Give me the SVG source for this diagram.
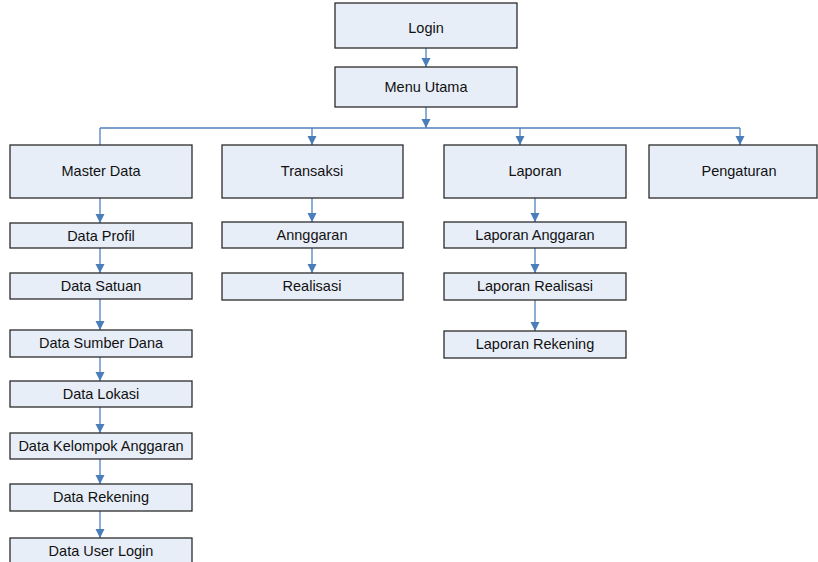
<svg xmlns="http://www.w3.org/2000/svg" width="818" height="562" viewBox="0 0 818 562">
<style>
.box{fill:#e8eef8;stroke:#2b2b2b;stroke-width:1.3}
.lbl{font-family:"Liberation Sans",Arial,sans-serif;font-size:14.5px;fill:#111;text-anchor:middle}
.con{fill:none;stroke:#4f81bd;stroke-width:1.3}
</style>
<defs>
<marker id="arr" markerUnits="userSpaceOnUse" markerWidth="10" markerHeight="10" refX="4.5" refY="9" orient="auto" viewBox="0 0 10 10">
<path d="M0,0 L9,0 L4.5,9 Z" fill="#4a7ebb" transform="rotate(-90 4.5 4.5)"/>
</marker>
<marker id="ah" markerUnits="userSpaceOnUse" markerWidth="10" markerHeight="10" refX="9" refY="5" orient="auto" viewBox="0 0 10 10">
<path d="M0,0.5 L9,5 L0,9.5 Z" fill="#4a7ebb"/>
</marker>
</defs>
<rect width="818" height="562" fill="#ffffff"/>
<g id="connectors">
<line class="con" x1="426" y1="48" x2="426" y2="67" marker-end="url(#ah)"/>
<line class="con" x1="426" y1="107" x2="426" y2="128" marker-end="url(#ah)"/>
<line class="con" x1="100" y1="128" x2="740" y2="128"/>
<line class="con" x1="100" y1="128" x2="100" y2="145"/>
<line class="con" x1="312" y1="128" x2="312" y2="145" marker-end="url(#ah)"/>
<line class="con" x1="520" y1="128" x2="520" y2="145" marker-end="url(#ah)"/>
<line class="con" x1="740" y1="128" x2="740" y2="145" marker-end="url(#ah)"/>
<line class="con" x1="100" y1="198" x2="100" y2="223" marker-end="url(#ah)"/>
<line class="con" x1="100" y1="248" x2="100" y2="273" marker-end="url(#ah)"/>
<line class="con" x1="100" y1="299" x2="100" y2="330" marker-end="url(#ah)"/>
<line class="con" x1="100" y1="357" x2="100" y2="381" marker-end="url(#ah)"/>
<line class="con" x1="100" y1="407" x2="100" y2="433" marker-end="url(#ah)"/>
<line class="con" x1="100" y1="459" x2="100" y2="484" marker-end="url(#ah)"/>
<line class="con" x1="100" y1="511" x2="100" y2="538" marker-end="url(#ah)"/>
<line class="con" x1="312" y1="198" x2="312" y2="222" marker-end="url(#ah)"/>
<line class="con" x1="312" y1="248" x2="312" y2="273" marker-end="url(#ah)"/>
<line class="con" x1="535" y1="198" x2="535" y2="222" marker-end="url(#ah)"/>
<line class="con" x1="535" y1="248" x2="535" y2="273" marker-end="url(#ah)"/>
<line class="con" x1="535" y1="300" x2="535" y2="331" marker-end="url(#ah)"/>
</g>
<g id="login"><rect class="box" x="335" y="3" width="182" height="45"/><text class="lbl" x="426" y="33">Login</text></g>
<g id="menu-utama"><rect class="box" x="335" y="67" width="182" height="40"/><text class="lbl" x="426" y="92">Menu Utama</text></g>
<g id="master-data"><rect class="box" x="10" y="145" width="182" height="53"/><text class="lbl" x="101" y="176">Master Data</text></g>
<g id="transaksi"><rect class="box" x="222" y="145" width="181" height="53"/><text class="lbl" x="312" y="176">Transaksi</text></g>
<g id="laporan"><rect class="box" x="444" y="145" width="182" height="53"/><text class="lbl" x="535" y="176">Laporan</text></g>
<g id="pengaturan"><rect class="box" x="649" y="145" width="168" height="53"/><text class="lbl" x="739" y="176">Pengaturan</text></g>
<g id="data-profil"><rect class="box" x="10" y="223" width="182" height="25"/><text class="lbl" x="101" y="241">Data Profil</text></g>
<g id="data-satuan"><rect class="box" x="10" y="273" width="182" height="26"/><text class="lbl" x="101" y="291">Data Satuan</text></g>
<g id="data-sumber-dana"><rect class="box" x="10" y="330" width="182" height="27"/><text class="lbl" x="101" y="348">Data Sumber Dana</text></g>
<g id="data-lokasi"><rect class="box" x="10" y="381" width="182" height="26"/><text class="lbl" x="101" y="399">Data Lokasi</text></g>
<g id="data-kelompok-anggaran"><rect class="box" x="10" y="433" width="182" height="26"/><text class="lbl" x="101" y="451">Data Kelompok Anggaran</text></g>
<g id="data-rekening"><rect class="box" x="10" y="484" width="182" height="27"/><text class="lbl" x="101" y="502">Data Rekening</text></g>
<g id="data-user-login"><rect class="box" x="10" y="538" width="182" height="27"/><text class="lbl" x="101" y="556">Data User Login</text></g>
<g id="annggaran"><rect class="box" x="222" y="222" width="181" height="26"/><text class="lbl" x="312" y="240">Annggaran</text></g>
<g id="realisasi"><rect class="box" x="222" y="273" width="181" height="27"/><text class="lbl" x="312" y="291">Realisasi</text></g>
<g id="laporan-anggaran"><rect class="box" x="444" y="222" width="182" height="26"/><text class="lbl" x="535" y="240">Laporan Anggaran</text></g>
<g id="laporan-realisasi"><rect class="box" x="444" y="273" width="182" height="27"/><text class="lbl" x="535" y="291">Laporan Realisasi</text></g>
<g id="laporan-rekening"><rect class="box" x="444" y="331" width="182" height="27"/><text class="lbl" x="535" y="349">Laporan Rekening</text></g>
</svg>
